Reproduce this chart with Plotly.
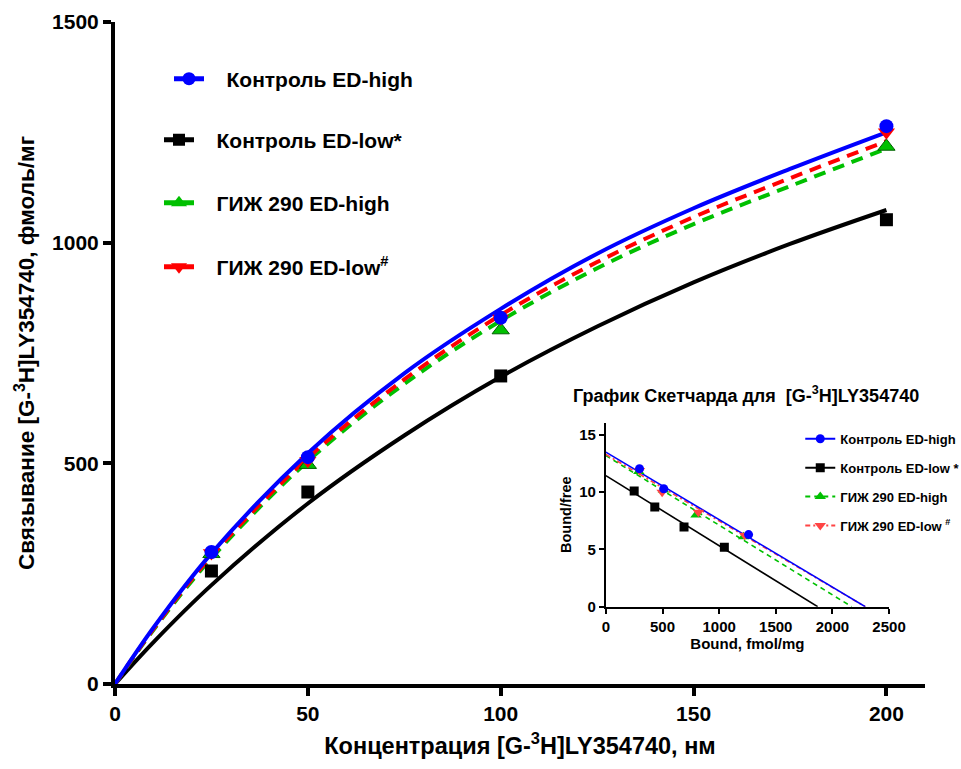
import plotly.graph_objects as go

# ---------------- main plot data ----------------
conc = [25, 50, 100, 200]
ctrl_high = [299, 514, 830, 1264]
ctrl_low = [256, 435, 698, 1052]
giz_high = [295, 497, 802, 1218]
giz_low = [297, 506, 828, 1250]

curve_x = [0, 10, 25, 50, 75, 100, 125, 150, 175, 200]
curve_ctrl_high = [0, 128, 296, 523, 704, 850, 975, 1078, 1167, 1250]
curve_ctrl_low = [0, 95, 224, 409, 563, 696, 810, 910, 997, 1074]
curve_giz_high = [0, 123, 285, 505, 680, 823, 942, 1042, 1128, 1213]
curve_giz_low = [0, 125, 290, 512, 690, 836, 956, 1058, 1146, 1230]

# ---------------- inset (Scatchard) data ----------------
sc_ctrl_high_x = [297, 511, 1260]
sc_ctrl_high_y = [12.05, 10.3, 6.3]
sc_ctrl_low_x = [250, 432, 690, 1046]
sc_ctrl_low_y = [10.1, 8.7, 6.95, 5.2]
sc_giz_high_x = [291, 508, 796, 1216]
sc_giz_high_y = [11.8, 10.2, 8.0, 6.1]
sc_giz_low_x = [297, 497, 817, 1225]
sc_giz_low_y = [11.9, 10.0, 8.25, 6.25]

fit_ctrl_high_x = [0, 2290]
fit_ctrl_high_y = [13.5, 0]
fit_ctrl_low_x = [0, 1870]
fit_ctrl_low_y = [11.45, 0]
fit_giz_high_x = [0, 2170]
fit_giz_high_y = [13.2, 0]
fit_giz_low_x = [0, 2290]
fit_giz_low_y = [13.3, 0]

NB = "\u00a0"
names_main = [NB * 3 + "Контроль ED-high", NB * 3 + "Контроль ED-low*", NB * 3 + "ГИЖ 290 ED-high",
              NB * 3 + "ГИЖ 290 ED-low<sup>#</sup>"]
names_inset = ["Контроль ED-high", "Контроль ED-low *", "ГИЖ 290 ED-high", "ГИЖ 290 ED-low <sup>#</sup>"]

BLUE = "#0000FF"
BLACK = "#000000"
GREEN = "#00C000"
RED = "#FF0000"
RED_IN = "#FF4444"
FONT = "Liberation Sans"

fig = go.Figure()

series_main = [
    (curve_ctrl_high, ctrl_high, BLUE, "circle", "solid", 14),
    (curve_ctrl_low, ctrl_low, BLACK, "square", "solid", 13),
    (curve_giz_high, giz_high, GREEN, "triangle-up", "12px,8px", 15),
    (curve_giz_low, giz_low, RED, "triangle-down", "12px,8px", 15),
]
for i in [1, 2, 3, 0]:
    cy, py, col, sym, dash, ms = series_main[i]
    fig.add_trace(go.Scatter(x=curve_x, y=cy, mode="lines", line=dict(color=col, width=4, dash=dash, shape="spline"),
                             showlegend=False, hoverinfo="skip"))
for i in [1, 2, 3, 0]:
    cy, py, col, sym, dash, ms = series_main[i]
    mline = dict(color="#006000", width=1) if sym == "triangle-up" else dict(width=0)
    fig.add_trace(go.Scatter(x=conc, y=py, mode="markers", marker=dict(color=col, symbol=sym, size=ms, line=mline),
                             showlegend=False))
# main legend entries, one small legend per entry
main_legends = ["legend", "legend3", "legend4", "legend5"]
for i, nm in enumerate(names_main):
    cy, py, col, sym, dash, ms = series_main[i]
    fig.add_trace(go.Scatter(x=[None], y=[None], mode="lines+markers", name=nm,
                             line=dict(color=col, width=5), marker=dict(color=col, symbol=sym, size=ms - 1),
                             legend=main_legends[i]))

# inset traces
series_in = [
    (fit_ctrl_high_x, fit_ctrl_high_y, sc_ctrl_high_x, sc_ctrl_high_y, BLUE, "circle", "solid", 9),
    (fit_ctrl_low_x, fit_ctrl_low_y, sc_ctrl_low_x, sc_ctrl_low_y, BLACK, "square", "solid", 9),
    (fit_giz_high_x, fit_giz_high_y, sc_giz_high_x, sc_giz_high_y, GREEN, "triangle-up", "5px,4px", 10),
    (fit_giz_low_x, fit_giz_low_y, sc_giz_low_x, sc_giz_low_y, RED_IN, "triangle-down", "5px,3px,2px,3px", 10),
]
for i in [1, 2, 3, 0]:
    fx, fy, px, pyy, col, sym, dash, ms = series_in[i]
    fig.add_trace(go.Scatter(x=fx, y=fy, mode="lines", line=dict(color=col, width=1.6, dash=dash),
                             xaxis="x2", yaxis="y2", showlegend=False, hoverinfo="skip"))
for i in [1, 2, 3, 0]:
    fx, fy, px, pyy, col, sym, dash, ms = series_in[i]
    fig.add_trace(go.Scatter(x=px, y=pyy, mode="markers", marker=dict(color=col, symbol=sym, size=ms),
                             xaxis="x2", yaxis="y2", showlegend=False))
for i, nm in enumerate(names_inset):
    fx, fy, px, pyy, col, sym, dash, ms = series_in[i]
    fig.add_trace(go.Scatter(x=[None], y=[None], mode="lines+markers", name=nm,
                             line=dict(color=col, width=2, dash=dash), marker=dict(color=col, symbol=sym, size=ms),
                             xaxis="x2", yaxis="y2", legend="legend2", legendgroup="i%d" % i))

bold = dict(family=FONT, color="black", weight="bold")


def ypaper(py):
    return (684 - py) / 662


def xpaper(px):
    return (px - 115) / 810


leg_common = dict(xanchor="left", yanchor="middle", bgcolor="rgba(0,0,0,0)", font=dict(size=21, **bold),
                  itemwidth=30)

fig.update_layout(
    width=961, height=769,
    margin=dict(l=115, r=36, t=22, b=85, autoexpand=False),
    paper_bgcolor="white", plot_bgcolor="white",
    font=dict(family=FONT, color="black"),
    xaxis=dict(domain=[0, 1], range=[0, 210], tickvals=[0, 50, 100, 150, 200], showgrid=False, zeroline=False,
               automargin=False,
               showline=True, linecolor="black", linewidth=4, ticks="outside", ticklen=8, tickwidth=4,
               tickcolor="black", tickfont=dict(size=21, **bold),
               title=dict(text="Концентрация [G-<sup>3</sup>H]LY354740, нм", font=dict(size=23.5, **bold), standoff=14)),
    yaxis=dict(domain=[0, 1], range=[0, 1500], tickvals=[0, 500, 1000, 1500], showgrid=False, zeroline=False,
               automargin=False,
               showline=True, linecolor="black", linewidth=4, ticks="outside", ticklen=8, tickwidth=4,
               tickcolor="black", tickfont=dict(size=21, **bold),
               title=dict(text="Связывание [G-<sup>3</sup>H]LY354740, фмоль/мг", font=dict(size=22.5, **bold),
                          standoff=12)),
    xaxis2=dict(domain=[0.606, 0.9556], range=[0, 2500], tickvals=[0, 500, 1000, 1500, 2000, 2500],
                anchor="y2", showgrid=False, zeroline=False, showline=True, linecolor="black", linewidth=2,
                automargin=False,
                ticks="outside", ticklen=5, tickwidth=2, tickcolor="black", tickfont=dict(size=15, **bold),
                title=dict(text="Bound, fmol/mg", font=dict(size=15, **bold), standoff=1)),
    yaxis2=dict(domain=[0.1168, 0.3947], range=[0, 16.07], tickvals=[0, 5, 10, 15],
                anchor="x2", showgrid=False, zeroline=False, showline=True, linecolor="black", linewidth=2,
                automargin=False,
                ticks="outside", ticklen=5, tickwidth=2, tickcolor="black", tickfont=dict(size=15, **bold),
                title=dict(text="Bound/free", font=dict(size=14.5, **bold), standoff=4)),
    legend=dict(x=xpaper(169), y=ypaper(79), **leg_common),
    legend3=dict(x=xpaper(159), y=ypaper(140), **leg_common),
    legend4=dict(x=xpaper(159), y=ypaper(203), **leg_common),
    legend5=dict(x=xpaper(159), y=ypaper(267), **leg_common),
    legend2=dict(x=0.846, y=0.393, xanchor="left", yanchor="top", bgcolor="rgba(0,0,0,0)",
                 font=dict(size=13, **bold), tracegroupgap=9, traceorder="grouped", itemwidth=30),
    annotations=[dict(text="График Скетчарда для  [G-<sup>3</sup>H]LY354740", xref="paper", yref="paper",
                      x=xpaper(746), y=ypaper(394), xanchor="center", yanchor="middle", showarrow=False,
                      font=dict(size=18, **bold))],
)

fig.write_html("out.html")
